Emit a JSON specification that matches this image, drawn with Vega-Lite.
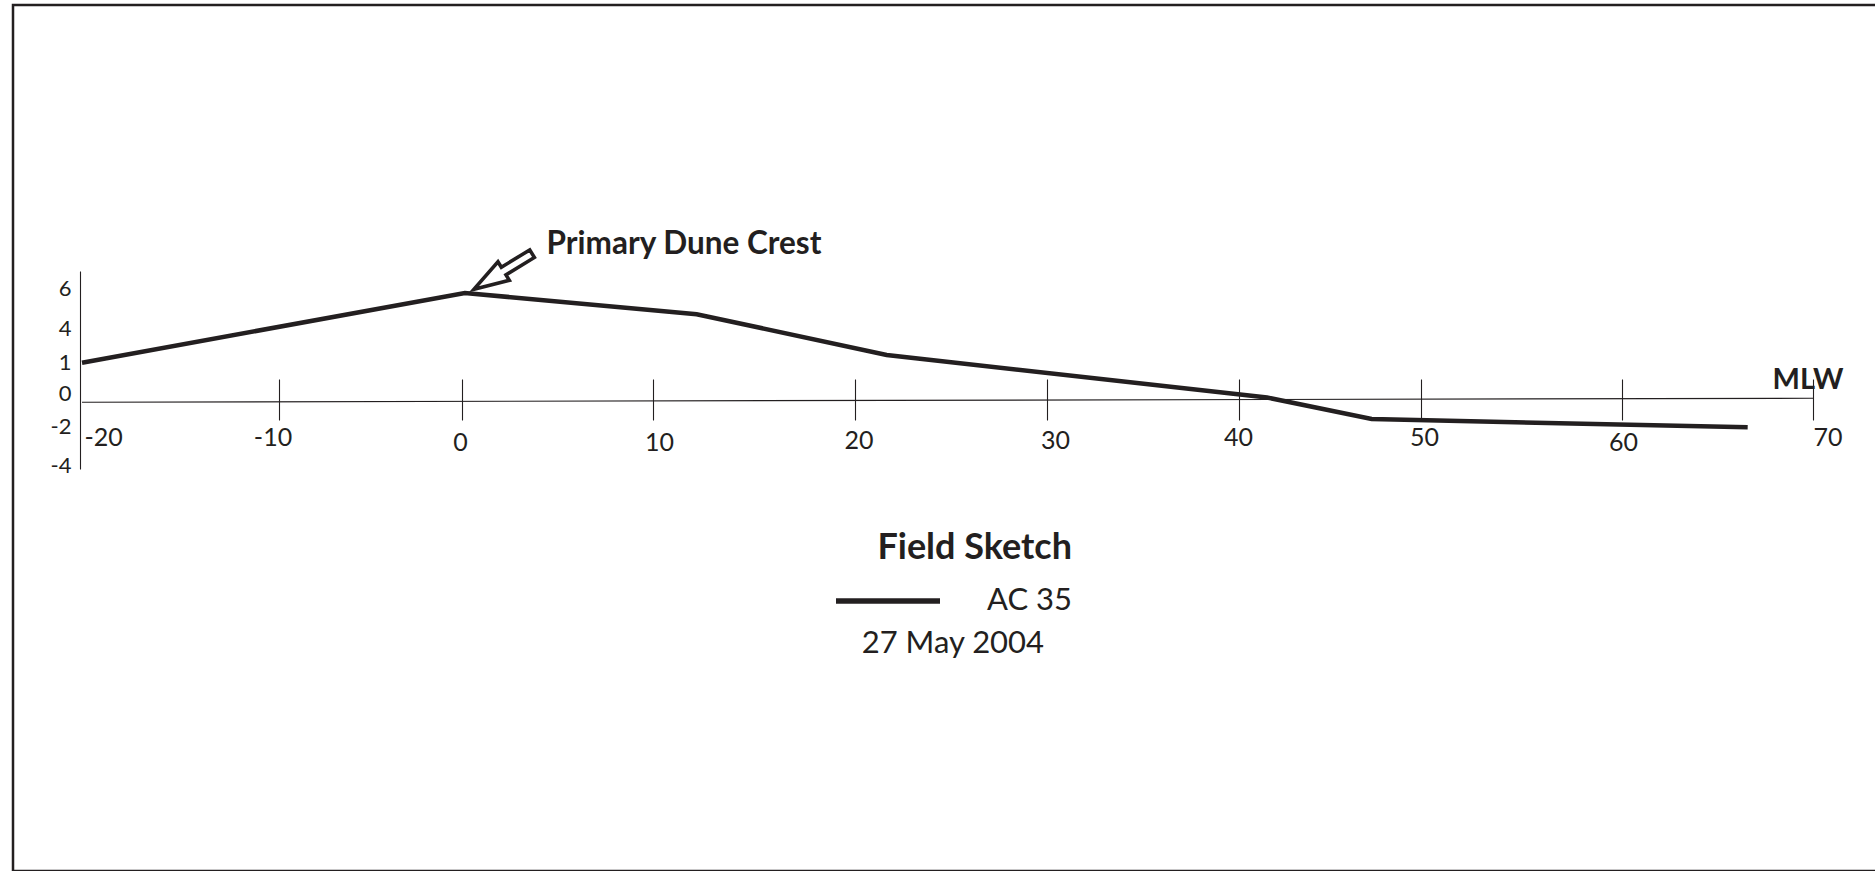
{
  "$schema": "https://vega.github.io/schema/vega-lite/v6.json",
  "width": 1875,
  "height": 866,
  "autosize": {"type": "none"},
  "padding": {"left": 13, "top": 5, "right": 0, "bottom": 0},
  "background": "#ffffff",
  "config": {
    "view": {"stroke": "#231f20", "strokeWidth": 2.5},
    "font": "Lato"
  },
  "layer": [
    {
      "data": {"values": [{"d": -20}]},
      "mark": {"type": "rule", "color": "#231f20", "strokeWidth": 1.2},
      "encoding": {
        "x": {"datum": -20, "type": "quantitative"},
        "y": {"datum": -0.3, "type": "quantitative"},
        "x2": {"datum": 70},
        "y2": {"datum": -0.07}
      }
    },
    {
      "data": {"values": [
        {"distance": -20, "elevation": 1.29, "profile": "AC 35"},
        {"distance": 0.15, "elevation": 5.95, "profile": "AC 35"},
        {"distance": 12.16, "elevation": 4.89, "profile": "AC 35"},
        {"distance": 21.65, "elevation": 1.97, "profile": "AC 35"},
        {"distance": 41.54, "elevation": -0.03, "profile": "AC 35"},
        {"distance": 47.29, "elevation": -1.26, "profile": "AC 35"},
        {"distance": 66.58, "elevation": -1.73, "profile": "AC 35"}
      ]},
      "mark": {"type": "line", "strokeWidth": 4.5, "strokeJoin": "miter"},
      "encoding": {
        "x": {
          "field": "distance", "type": "quantitative",
          "scale": {"domain": [-20, -10, 0, 10, 20, 30, 40, 50, 60, 70], "range": [69, 266, 449, 640, 842, 1034, 1226, 1408, 1609, 1800], "nice": false, "zero": false},
          "axis": {
            "title": null,
            "orient": "bottom",
            "offset": -492,
            "values": [-20, -10, 0, 10, 20, 30, 40, 50, 60, 70],
            "labelExpr": "'' + datum.value",
            "domain": false,
            "grid": false,
            "ticks": true,
            "tickSize": 41,
            "tickWidth": 1.1,
            "tickColor": "#231f20",
            "tickOpacity": {"condition": {"test": "datum.value == -20", "value": 0}, "value": 1},
            "labelFont": "Lato",
            "labelFontSize": 25,
            "labelColor": "#231f20",
            "labelOverlap": false,
            "labelFlush": false,
            "labelBound": false,
            "labelAlign": {"condition": {"test": "datum.value == -20 || datum.value == 70", "value": "left"}, "value": "center"},
            "labelOffset": {"condition": [
              {"test": "datum.value == -20", "value": 2},
              {"test": "datum.value == -10", "value": -6.5},
              {"test": "datum.value == 0", "value": -2},
              {"test": "datum.value == 10", "value": 6},
              {"test": "datum.value == 20", "value": 3.5},
              {"test": "datum.value == 30", "value": 8},
              {"test": "datum.value == 40", "value": -1},
              {"test": "datum.value == 50", "value": 3},
              {"test": "datum.value == 60", "value": 1}
            ], "value": 0},
            "labelPadding": {"condition": [
              {"test": "datum.value == 0 || datum.value == 10 || datum.value == 60", "value": 10.5},
              {"test": "datum.value == 20 || datum.value == 30", "value": 8.5}
            ], "value": 5.75}
          }
        },
        "y": {
          "field": "elevation", "type": "quantitative",
          "scale": {"domain": [-4, -2, 0, 1, 4, 6, 7], "range": [464, 427, 392, 361, 327, 287, 266], "nice": false, "zero": false},
          "axis": {
            "title": null,
            "orient": "left",
            "offset": -67,
            "values": [6, 4, 1, 0, -2, -4],
            "labelExpr": "'' + datum.value",
            "domain": true,
            "domainColor": "#231f20",
            "domainWidth": 1.1,
            "grid": false,
            "ticks": false,
            "tickSize": 0,
            "labelPadding": 9,
            "labelOffset": {"condition": {"test": "datum.value == -2", "value": -5.5}, "value": -4},
            "labelFont": "Lato",
            "labelFontSize": 22,
            "labelColor": "#231f20",
            "labelOverlap": false,
            "labelBound": false
          }
        },
        "stroke": {
          "field": "profile", "type": "nominal",
          "scale": {"range": ["#231f20"]},
          "legend": {
            "orient": "none",
            "legendX": 820,
            "legendY": 526,
            "title": "Field Sketch",
            "titleFont": "Lato",
            "titleFontSize": 36,
            "titleFontWeight": "bold",
            "titleColor": "#231f20",
            "titleAnchor": "end",
            "titleLimit": 500,
            "titlePadding": -21,
            "labelFont": "Lato",
            "labelFontSize": 31,
            "labelColor": "#231f20",
            "labelOffset": 44,
            "labelLimit": 300,
            "symbolType": "stroke",
            "symbolSize": 10816,
            "symbolStrokeWidth": 5.5,
            "padding": 0
          }
        }
      }
    },
    {
      "data": {"values": [{"distance": 2.15, "elevation": 6.98}]},
      "mark": {"type": "point", "shape": "M1,0L-0.02,-0.32L-0.02,-0.13L-1,-0.13L-1,0.13L-0.02,0.13L-0.02,0.32Z", "size": 4624, "angle": 148.5, "filled": false, "fill": "#ffffff", "fillOpacity": 1, "stroke": "#231f20", "strokeWidth": 3.6, "opacity": 1, "strokeJoin": "miter"},
      "encoding": {
        "x": {"field": "distance", "type": "quantitative"},
        "y": {"field": "elevation", "type": "quantitative"}
      }
    },
    {
      "data": {"values": [{"distance": 4.43, "elevation": 7.8, "label": "Primary Dune Crest"}]},
      "mark": {"type": "text", "font": "Lato", "fontSize": 31.5, "fontWeight": "bold", "color": "#231f20", "align": "left", "baseline": "alphabetic"},
      "encoding": {
        "x": {"field": "distance", "type": "quantitative"},
        "y": {"field": "elevation", "type": "quantitative"},
        "text": {"field": "label"}
      }
    },
    {
      "data": {"values": [{"distance": 69.74, "elevation": 0.25, "label": "MLW"}]},
      "mark": {"type": "text", "font": "Lato", "fontSize": 29, "fontWeight": "bold", "color": "#231f20", "align": "center", "baseline": "alphabetic"},
      "encoding": {
        "x": {"field": "distance", "type": "quantitative"},
        "y": {"field": "elevation", "type": "quantitative"},
        "text": {"field": "label"}
      }
    },
    {
      "data": {"values": [{"distance": 20.35, "elevation": -13.93, "label": "27 May 2004"}]},
      "mark": {"type": "text", "font": "Lato", "fontSize": 31, "color": "#231f20", "align": "left", "baseline": "alphabetic"},
      "encoding": {
        "x": {"field": "distance", "type": "quantitative"},
        "y": {"field": "elevation", "type": "quantitative"},
        "text": {"field": "label"}
      }
    }
  ]
}
